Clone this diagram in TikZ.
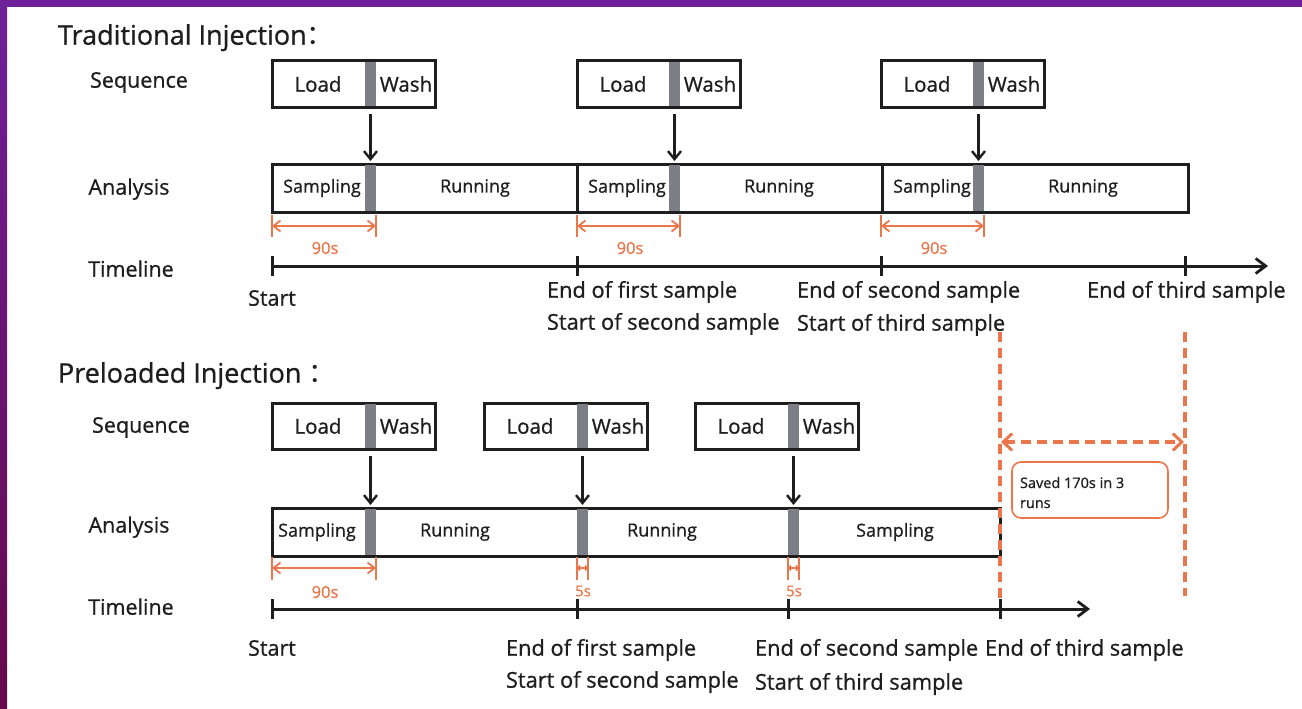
\documentclass[tikz,border=0pt]{standalone}
\usepackage{fontspec}
\setmainfont{Open Sans}[FakeBold=0.8]
\newfontfamily\cjkfont{Noto Sans CJK SC}
\usetikzlibrary{arrows.meta}
\definecolor{frameTop}{HTML}{6E2199}
\definecolor{frameBot}{HTML}{66084A}
\definecolor{barGray}{HTML}{7E7F86}
\definecolor{accent}{HTML}{E9774B}
\definecolor{ink}{HTML}{1E1E1E}
\begin{document}
\begin{tikzpicture}[x=1pt,y=-1pt,
  every node/.style={inner sep=0pt,outer sep=0pt,text=ink},
  heading/.style={anchor=mid west,font=\fontsize{27}{32}\selectfont},
  rowlabel/.style={anchor=mid,font=\fontsize{21.5}{25}\selectfont},
  stamp/.style={anchor=mid west,font=\fontsize{21.8}{25}\selectfont},
  seqbox/.style={draw=ink,line width=3pt,minimum width=163pt,minimum height=46pt},
  anabox/.style={draw=ink,line width=3pt,minimum height=48pt},
  gbar/.style={fill=barGray,minimum width=11pt,minimum height=44pt},
  seqtext/.style={font=\fontsize{20.5}{24}\selectfont},
  anatext/.style={font=\fontsize{18}{22}\selectfont},
  feed/.style={draw=ink,line width=2.4pt,-{Straight Barb[length=8pt,width=13pt,line width=2.4pt]},shorten <=8pt,shorten >=4pt},
  axis/.style={draw=ink,line width=3pt},
  axisarrow/.style={axis,-{Straight Barb[length=10pt,width=15pt,line width=2.8pt]}},
  tick/.style={draw=ink,line width=3pt},
  dim/.style={draw=accent,line width=1.8pt,{Straight Barb[length=7pt,width=11pt,line width=1.8pt]}-{Straight Barb[length=7pt,width=11pt,line width=1.8pt]}},
  dimtick/.style={draw=accent,line width=1.8pt},
  smalldim/.style={draw=accent,line width=1.5pt,{Straight Barb[length=2pt,width=5pt]}-{Straight Barb[length=2pt,width=5pt]}},
  dimtext/.style={text=accent,font=\fontsize{16.5}{20}\selectfont},
  guide/.style={draw=accent,line width=3.6pt,dash pattern=on 10pt off 6pt},
  gap/.style={draw=accent,line width=3.8pt,dash pattern=on 10pt off 6pt,
    {Straight Barb[length=9pt,width=17pt,line width=3pt]}-{Straight Barb[length=9pt,width=17pt,line width=3pt]}},
  note/.style={draw=accent,line width=1.6pt,rounded corners=9pt,minimum width=156pt,minimum height=56pt}
]
\useasboundingbox (0,0) rectangle (1302,709);
\fill[white] (0,0) rectangle (1302,709);
% frame strips
\fill[frameTop] (0,0) rectangle (1302,7);
\shade[top color=frameTop,bottom color=frameBot] (0,0) rectangle (7,709);

% ---------------- Traditional injection ----------------
\node[heading] (titleA) at (58,42) {Traditional Injection{\cjkfont ：}};
\node[rowlabel] (seqA) at (139,85) {Sequence};
\node[rowlabel] (anaA) at (129,192) {Analysis};
\node[rowlabel] (timA) at (131,274) {Timeline};

% sequence boxes
\foreach \i/\l/\b in {1/272/365,2/577/669,3/881/973}{
  \node[seqbox] (sA\i) at (\l+82,84) {};
  \node[gbar] (sAb\i) at (\b+5.5,84) {};
  \node[seqtext] (sAl\i) at (\l+46,84) {Load};
  \node[seqtext] (sAw\i) at (\b+11+30,84) {Wash};
}
% analysis boxes
\foreach \i/\l/\r/\b in {1/272/577/365,2/577/882/669,3/882/1188/973}{
  \node[anabox,minimum width=\r pt-\l pt] (aA\i) at ({(\l+\r)/2},188) {};
  \node[gbar,minimum height=46pt] (aAb\i) at (\b+5.5,188) {};
  \node[anatext] (aAs\i) at (\l+50,188) {Sampling};
  \node[anatext] (aAr\i) at (\b+110,188) {Running};
  \draw[feed] (sAb\i.south) -- (aAb\i.north);
}
% 90 s spans
\foreach \i/\l/\b in {1/272/365,2/577/669,3/881/973}{
  \coordinate (dA\i l) at (\l,226);
  \coordinate (dA\i r) at (\b+11,226);
  \draw[dimtick] (\l,215) -- (\l,237);
  \draw[dimtick] (\b+11,215) -- (\b+11,237);
  \draw[dim] (dA\i l) -- (dA\i r);
  \node[dimtext] (tA\i) at (\l+53,248) {90s};
}
% timeline
\coordinate (tA0) at (272,266);
\coordinate (tA1) at (577,266);
\coordinate (tA2) at (881,266);
\coordinate (tA3) at (1185,266);
\coordinate (tAend) at (1268,266);
\draw[axisarrow] (tA0) -- (tAend);
\foreach \p in {tA0,tA1,tA2,tA3}{\draw[tick] ([yshift=-10pt]\p) -- ([yshift=10pt]\p);}
\node[rowlabel] (stA0) at (272,303) {Start};
\node[stamp] (stA1a) at (547,295) {End of first sample};
\node[stamp] (stA1b) at (547,327) {Start of second sample};
\node[stamp] (stA2a) at (797,295) {End of second sample};
\node[stamp] (stA2b) at (797,328) {Start of third sample};
\node[stamp] (stA3a) at (1087,295) {End of third sample};

% ---------------- Preloaded injection ----------------
\node[heading] (titleB) at (58,380) {Preloaded Injection {\cjkfont ：}};
\node[rowlabel] (seqB) at (141,430) {Sequence};
\node[rowlabel] (anaB) at (129,530) {Analysis};
\node[rowlabel] (timB) at (131,612) {Timeline};

\foreach \i/\l/\b in {1/272/365,2/484/577,3/695/788}{
  \node[seqbox] (sB\i) at (\l+82,426) {};
  \node[gbar] (sBb\i) at (\b+5.5,426) {};
  \node[seqtext] (sBl\i) at (\l+46,426) {Load};
  \node[seqtext] (sBw\i) at (\b+11+30,426) {Wash};
}
\node[anabox,minimum width=728pt] (aB) at (636,532) {};
\foreach \i/\b in {1/365,2/577,3/788}{
  \node[gbar,minimum height=46pt] (aBb\i) at (\b+5.5,532) {};
  \draw[feed] (sBb\i.south) -- (aBb\i.north);
}
\node[anatext] (aBt1) at (317,532) {Sampling};
\node[anatext] (aBt2) at (455,532) {Running};
\node[anatext] (aBt3) at (662,532) {Running};
\node[anatext] (aBt4) at (895,532) {Sampling};

% spans
\coordinate (dB1l) at (272,568);
\coordinate (dB1r) at (376,568);
\draw[dimtick] (272,557) -- (272,580);
\draw[dimtick] (376,557) -- (376,580);
\draw[dim] (dB1l) -- (dB1r);
\node[dimtext] (tB1) at (325,592) {90s};
\foreach \i/\b in {2/577,3/788}{
  \coordinate (dB\i l) at (\b,568);
  \coordinate (dB\i r) at (\b+11,568);
  \draw[dimtick] (\b,557) -- (\b,580);
  \draw[dimtick] (\b+11,557) -- (\b+11,580);
  \draw[smalldim] (dB\i l) -- (dB\i r);
  \node[dimtext,font=\fontsize{15}{18}\selectfont] (tB\i) at (\b+6,591) {5s};
}

\coordinate (tB0) at (272,609);
\coordinate (tB1) at (577,609);
\coordinate (tB2) at (788,609);
\coordinate (tB3) at (1000,609);
\coordinate (tBend) at (1090,609);
\draw[axisarrow] (tB0) -- (tBend);
\foreach \p in {tB0,tB1,tB2,tB3}{\draw[tick] ([yshift=-10pt]\p) -- ([yshift=10pt]\p);}
\node[rowlabel] (stB0) at (272,653) {Start};
\node[stamp] (stB1a) at (506,653) {End of first sample};
\node[stamp] (stB1b) at (506,685) {Start of second sample};
\node[stamp] (stB2a) at (755,653) {End of second sample};
\node[stamp] (stB2b) at (755,687) {Start of third sample};
\node[stamp] (stB3a) at (985,653) {End of third sample};

% time saved
\coordinate (gL0) at (1000,332);
\coordinate (gL1) at (1000,598);
\coordinate (gR0) at (1185,332);
\coordinate (gR1) at (1185,596);
\draw[guide] (gL0) -- (gL1);
\draw[guide] (gR0) -- (gR1);
\coordinate (gapL) at (1001,442);
\coordinate (gapR) at (1184,442);
\draw[gap] (gapL) -- (gapR);
\node[note] (saved) at (1090,490) {};
\node[anchor=north west,align=left,font=\fontsize{14.5}{20}\selectfont] (savedtext) at (1020,477) {Saved 170s in 3\\runs};
\end{tikzpicture}
\end{document}
